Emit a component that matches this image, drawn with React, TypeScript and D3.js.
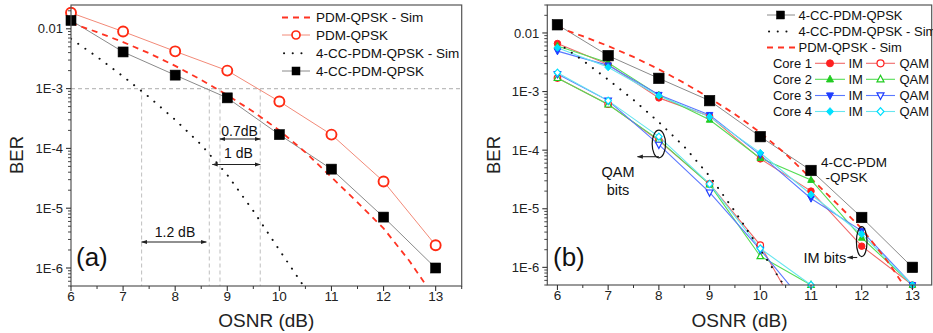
import React from 'react';
import * as d3 from 'd3';

// ---------- data ----------
const osnr = [6, 7, 8, 9, 10, 11, 12, 13];
const pdmQpskExp = [0.0185, 0.009, 0.0042, 0.002, 6.1e-4, 1.7e-4, 2.8e-5, 2.4e-6];
const cc4Exp = [0.0138, 0.0041, 0.00168, 7.0e-4, 1.7e-4, 4.5e-5, 7.1e-6, 1.0e-6];

const simX = [6, 6.5, 7, 7.5, 8, 8.5, 9, 9.5, 10, 10.5, 11, 11.5, 12, 12.5, 13];
const pdmQpskSim = [0.0125, 0.0088, 0.006, 0.0039, 0.0024, 0.0014, 7.8e-4, 4.1e-4, 2.0e-4, 8.6e-5, 3.3e-5, 1.25e-5, 4.6e-6, 1.3e-6, 3e-7];

const ccSimX = [6, 6.5, 7, 7.5, 8, 8.5, 9, 9.5, 10, 10.5, 11];
const ccSim = [0.0068, 0.0034, 0.0016, 7.2e-4, 3.0e-4, 1.15e-4, 3.6e-5, 9.0e-6, 2.0e-6, 4.5e-7, 1e-7];

const imCore1 = [0.0066, 0.0029, 7.8e-4, 3.8e-4, 7.1e-5, 2.0e-5, 2.3e-6, 5e-7];
const imCore2 = [0.006, 0.0031, 8.7e-4, 3.3e-4, 7.3e-5, 3.1e-5, 3.2e-6, 5e-7];
const imCore3 = [0.0049, 0.0028, 8.8e-4, 4.0e-4, 8.3e-5, 1.5e-5, 4.2e-6, 5e-7];
const imCore4 = [0.0056, 0.0026, 8.5e-4, 3.7e-4, 9.0e-5, 1.75e-5, 3.7e-6, 5e-7];

const qamX = [6, 7, 8, 9, 10, 11];
const qamCore1 = [0.0017, 6.1e-4, 1.45e-4, 2.65e-5, 2.4e-6, 7e-8];
const qamCore2 = [0.0017, 6.0e-4, 1.5e-4, 2.6e-5, 1.55e-6, 5e-7];
const qamCore3 = [0.002, 7.0e-4, 1.24e-4, 1.9e-5, 2.0e-6, 1.8e-7];
const qamCore4 = [0.0021, 7.0e-4, 1.7e-4, 2.65e-5, 2.1e-6, 5e-7];

const xTicks = [6, 7, 8, 9, 10, 11, 12, 13];
const yTicks = [1e-2, 1e-3, 1e-4, 1e-5, 1e-6];
const yTickLabels = ['0.01', '1E-3', '1E-4', '1E-5', '1E-6'];

const coreNames = ['Core 1', 'Core 2', 'Core 3', 'Core 4'];
const legendA = ['PDM-QPSK - Sim', 'PDM-QPSK', '4-CC-PDM-QPSK - Sim', '4-CC-PDM-QPSK'];
const legendB = ['4-CC-PDM-QPSK', '4-CC-PDM-QPSK - Sim', 'PDM-QPSK - Sim'];

// reference marks in panel (a)
const refLevel = 1e-3;
const refX = [7.355, 8.655, 8.86, 9.633];

// ---------- styling ----------
const FONT = '"Liberation Sans", Arial, Helvetica, sans-serif';
const RED = '#ff2a12';
const RED_LINE = '#f28a78';
const DASH_RED = '#ff3322';
const GRAY_LINE = '#8a8a8a';
const coreMarkColors = ['#ff2020', '#22cc22', '#1f3dff', '#00e0ff'];
const coreLineColors = ['#f06a6a', '#55dd55', '#5a78ff', '#66e6f0'];
const coreShapes = ['circle', 'up', 'down', 'diamond'];

function Mark({ x, y, shape, size, color, filled, sw = 1.2 }: any) {
  const r = size / 2;
  const fill = filled ? color : '#ffffff';
  if (shape === 'circle') return <circle cx={x} cy={y} r={r} fill={fill} stroke={color} strokeWidth={sw} />;
  if (shape === 'square') return <rect x={x - r} y={y - r} width={size} height={size} fill={fill} stroke={color} strokeWidth={sw} />;
  if (shape === 'up') return <path d={`M${x},${y - r * 1.15}L${x + r},${y + r * 0.75}L${x - r},${y + r * 0.75}Z`} fill={fill} stroke={color} strokeWidth={sw} />;
  if (shape === 'down') return <path d={`M${x},${y + r * 1.15}L${x + r},${y - r * 0.75}L${x - r},${y - r * 0.75}Z`} fill={fill} stroke={color} strokeWidth={sw} />;
  return <path d={`M${x},${y - r * 1.1}L${x + r},${y}L${x},${y + r * 1.1}L${x - r},${y}Z`} fill={fill} stroke={color} strokeWidth={sw} />;
}

function Axes({ xs, ys, L, R, T, B }: any) {
  const [x0, x1] = xs.domain();
  const [y0, y1] = ys.domain();
  const xMinor: number[] = [];
  for (let v = 5.5; v <= 14; v += 1) if (v >= x0 && v <= x1) xMinor.push(v);
  const yMinor: number[] = [];
  for (let e = -7; e <= -1; e++) for (let k = 2; k <= 9; k++) {
    const v = k * Math.pow(10, e);
    if (v >= y0 && v <= y1) yMinor.push(v);
  }
  const ax = '#333';
  return (
    <g>
      <rect x={L} y={T} width={R - L} height={B - T} fill="none" stroke="#555" strokeWidth={1.2} />
      {xTicks.map((t) => (
        <g key={'xt' + t}>
          <line x1={xs(t)} x2={xs(t)} y1={B} y2={B + 5} stroke={ax} strokeWidth={1.1} />
          <text x={xs(t)} y={B + 15} fontSize={13.5} textAnchor="middle" fill="#222" fontFamily={FONT}>{t}</text>
        </g>
      ))}
      {xMinor.map((t) => (
        <line key={'xm' + t} x1={xs(t)} x2={xs(t)} y1={B} y2={B + 3} stroke={ax} strokeWidth={1} />
      ))}
      {yTicks.map((t, i) => (
        <g key={'yt' + t}>
          <line x1={L - 5} x2={L} y1={ys(t)} y2={ys(t)} stroke={ax} strokeWidth={1.1} />
          <text x={L - 8} y={ys(t) + 4.7} fontSize={13} textAnchor="end" fill="#222" fontFamily={FONT}>{yTickLabels[i]}</text>
        </g>
      ))}
      {yMinor.map((t) => (
        <line key={'ym' + t} x1={L - 3} x2={L} y1={ys(t)} y2={ys(t)} stroke={ax} strokeWidth={0.9} />
      ))}
      <text x={(L + R) / 2} y={327} fontSize={19} textAnchor="middle" fill="#222" fontFamily={FONT}>OSNR (dB)</text>
    </g>
  );
}

export default function App() {
  // panel (a)
  const aL = 71, aR = 461.7, aT = 5, aB = 286;
  const xa = d3.scaleLinear().domain([6, 13.5]).range([aL, aR]);
  const ya = d3.scaleLog().domain([5e-7, 0.025]).range([aB, aT]);
  // panel (b)
  const bL = 547.3, bR = 931.7, bT = 5, bB = 285;
  const xb = d3.scaleLinear().domain([5.8, 13.38]).range([bL, bR]);
  const yb = d3.scaleLog().domain([5e-7, 0.03]).range([bB, bT]);

  const mkLine = (xs: any, ys: any) =>
    d3.line<[number, number]>().x((d) => xs(d[0])).y((d) => ys(d[1]));
  const la = mkLine(xa, ya);
  const lb = mkLine(xb, yb);
  const zip = (xv: number[], yv: number[]) => xv.map((x, i) => [x, yv[i]] as [number, number]);
  const visible = (v: number, ys: any) => v >= ys.domain()[0] * 0.97;

  const imSeries = [imCore1, imCore2, imCore3, imCore4];
  const qamSeries = [qamCore1, qamCore2, qamCore3, qamCore4];

  const lgAy = [17.5, 35, 53.3, 71];
  const lgBy = [15, 31.5, 47.5, 63.3, 79.3, 95.5, 111.5];

  const dotted = '0.1 8.6';

  return (
    <svg width={933} height={333} style={{ position: 'absolute', left: 0, top: 0, background: '#fff' }} fontFamily={FONT}>
      <defs>
        <clipPath id="clipA"><rect x={aL} y={aT} width={aR - aL} height={aB - aT} /></clipPath>
        <clipPath id="clipB"><rect x={bL} y={bT} width={bR - bL} height={bB - bT} /></clipPath>
        <marker id="ah" viewBox="0 0 10 10" refX="9" refY="5" markerWidth="6" markerHeight="6" orient="auto-start-reverse" markerUnits="userSpaceOnUse">
          <path d="M0,1.5L10,5L0,8.5Z" fill="#222" />
        </marker>
      </defs>
      <rect x={0} y={0} width={933} height={333} fill="#fff" />

      {/* ============ Panel (a) ============ */}
      <g clipPath="url(#clipA)">
        <line x1={aL} x2={aR} y1={ya(refLevel)} y2={ya(refLevel)} stroke="#bdbdbd" strokeWidth={1.1} strokeDasharray="4 3" />
        {refX.map((v) => (
          <line key={'rv' + v} x1={xa(v)} x2={xa(v)} y1={ya(refLevel)} y2={aB} stroke="#c4c4c4" strokeWidth={1.1} strokeDasharray="4 3" />
        ))}
        <path d={la(zip(osnr, pdmQpskExp)) || ''} fill="none" stroke={RED_LINE} strokeWidth={1} />
        <path d={la(zip(osnr, cc4Exp)) || ''} fill="none" stroke={GRAY_LINE} strokeWidth={1} />
        <path d={la(zip(ccSimX, ccSim)) || ''} fill="none" stroke="#111" strokeWidth={2} strokeDasharray={dotted} strokeLinecap="round" />
        <path d={la(zip(simX, pdmQpskSim)) || ''} fill="none" stroke={DASH_RED} strokeWidth={1.8} strokeDasharray="6 5" />
      </g>
      {osnr.map((x, i) => (
        <Mark key={'ac' + x} x={xa(x)} y={ya(pdmQpskExp[i])} shape="circle" size={10} color={RED} filled={false} sw={1.9} />
      ))}
      {osnr.map((x, i) => (
        <Mark key={'as' + x} x={xa(x)} y={ya(cc4Exp[i])} shape="square" size={10} color="#000" filled={true} sw={0.6} />
      ))}
      <Axes xs={xa} ys={ya} L={aL} R={aR} T={aT} B={aB} />
      <text transform={`translate(23,155) rotate(-90)`} fontSize={18.5} textAnchor="middle" fill="#222">BER</text>
      <text x={76} y={266} fontSize={26} fill="#111">(a)</text>

      {/* annotations (a) */}
      <text x={239.5} y={135.5} fontSize={14} textAnchor="middle" fill="#111">0.7dB</text>
      <line x1={xa(refX[2])} x2={xa(refX[3])} y1={139} y2={139} stroke="#222" strokeWidth={1.2} markerStart="url(#ah)" markerEnd="url(#ah)" />
      <text x={238.5} y={157.5} fontSize={14} textAnchor="middle" fill="#111">1 dB</text>
      <line x1={xa(refX[1]) + 3} x2={xa(refX[3])} y1={164.5} y2={164.5} stroke="#222" strokeWidth={1.2} markerStart="url(#ah)" markerEnd="url(#ah)" />
      <text x={175} y={237} fontSize={14} textAnchor="middle" fill="#111">1.2 dB</text>
      <line x1={xa(refX[0])} x2={xa(refX[1]) - 3} y1={242} y2={242} stroke="#222" strokeWidth={1.2} markerStart="url(#ah)" markerEnd="url(#ah)" />

      {/* legend (a) */}
      <g>
        <line x1={282} x2={310} y1={lgAy[0]} y2={lgAy[0]} stroke={DASH_RED} strokeWidth={1.8} strokeDasharray="6 5" />
        <line x1={282} x2={310} y1={lgAy[1]} y2={lgAy[1]} stroke={RED_LINE} strokeWidth={1} />
        <Mark x={296} y={lgAy[1]} shape="circle" size={8} color={RED} filled={false} sw={1.7} />
        <line x1={284} x2={310} y1={lgAy[2]} y2={lgAy[2]} stroke="#111" strokeWidth={2} strokeDasharray={dotted} strokeLinecap="round" />
        <line x1={282} x2={310} y1={lgAy[3]} y2={lgAy[3]} stroke={GRAY_LINE} strokeWidth={1} />
        <Mark x={296} y={lgAy[3]} shape="square" size={8} color="#000" filled={true} sw={0.5} />
        {legendA.map((t, i) => (
          <text key={'lga' + i} x={316} y={lgAy[i] + 4.8} fontSize={13.5} fill="#111">{t}</text>
        ))}
      </g>

      {/* ============ Panel (b) ============ */}
      <g clipPath="url(#clipB)">
        {qamSeries.map((s, c) => (
          <path key={'ql' + c} d={lb(zip(qamX, s)) || ''} fill="none" stroke={coreLineColors[c]} strokeWidth={1.1} />
        ))}
        {imSeries.map((s, c) => (
          <path key={'il' + c} d={lb(zip(osnr, s)) || ''} fill="none" stroke={coreLineColors[c]} strokeWidth={1.1} />
        ))}
        <path d={lb(zip(osnr, cc4Exp)) || ''} fill="none" stroke={GRAY_LINE} strokeWidth={1} />
        <path d={lb(zip(ccSimX, ccSim)) || ''} fill="none" stroke="#111" strokeWidth={2} strokeDasharray={dotted} strokeLinecap="round" />
        <path d={lb(zip(simX, pdmQpskSim)) || ''} fill="none" stroke={DASH_RED} strokeWidth={1.8} strokeDasharray="6 5" />
      </g>
      {qamSeries.map((s, c) =>
        qamX.map((x, i) =>
          visible(s[i], yb) ? (
            <Mark key={'qm' + c + '_' + i} x={xb(x)} y={yb(s[i])} shape={coreShapes[c]} size={6.5} color={coreMarkColors[c]} filled={false} sw={1.2} />
          ) : null
        )
      )}
      {imSeries.map((s, c) =>
        osnr.map((x, i) =>
          visible(s[i], yb) ? (
            <Mark key={'im' + c + '_' + i} x={xb(x)} y={yb(s[i])} shape={coreShapes[c]} size={6.5} color={coreMarkColors[c]} filled={true} sw={1} />
          ) : null
        )
      )}
      {osnr.map((x, i) => (
        <Mark key={'bs' + x} x={xb(x)} y={yb(cc4Exp[i])} shape="square" size={10.5} color="#000" filled={true} sw={0.6} />
      ))}
      <Axes xs={xb} ys={yb} L={bL} R={bR} T={bT} B={bB} />
      <text transform={`translate(500,155) rotate(-90)`} fontSize={18.5} textAnchor="middle" fill="#222">BER</text>
      <text x={553} y={266} fontSize={26} fill="#111">(b)</text>

      {/* annotations (b) */}
      <ellipse cx={xb(8)} cy={144} rx={6.7} ry={13.8} fill="none" stroke="#111" strokeWidth={1.2} />
      <line x1={xb(8)} x2={637.5} y1={156.7} y2={156.7} stroke="#222" strokeWidth={1.1} markerEnd="url(#ah)" />
      <text x={618} y={176.5} fontSize={14.5} textAnchor="middle" fill="#111">QAM</text>
      <text x={618} y={195} fontSize={14.5} textAnchor="middle" fill="#111">bits</text>
      <text x={821} y={166.5} fontSize={13.5} fill="#111">4-CC-PDM</text>
      <text x={825.5} y={181.5} fontSize={13.5} fill="#111">-QPSK</text>
      <ellipse cx={xb(12)} cy={241.7} rx={5.3} ry={15} fill="none" stroke="#111" strokeWidth={1.2} />
      <line x1={xb(12) - 4.5} x2={847.5} y1={257.5} y2={257.5} stroke="#222" strokeWidth={1.1} markerEnd="url(#ah)" />
      <text x={803.5} y={263} fontSize={14.5} fill="#111">IM bits</text>

      {/* legend (b) */}
      <g>
        <line x1={767} x2={795} y1={lgBy[0]} y2={lgBy[0]} stroke={GRAY_LINE} strokeWidth={1} />
        <Mark x={780.5} y={lgBy[0]} shape="square" size={8} color="#000" filled={true} sw={0.5} />
        <line x1={769} x2={795} y1={lgBy[1]} y2={lgBy[1]} stroke="#111" strokeWidth={2} strokeDasharray={dotted} strokeLinecap="round" />
        <line x1={767} x2={795} y1={lgBy[2]} y2={lgBy[2]} stroke={DASH_RED} strokeWidth={1.8} strokeDasharray="6 5" />
        {legendB.map((t, i) => (
          <text key={'lgb' + i} x={798.5} y={lgBy[i] + 4.7} fontSize={13} fill="#111">{t}</text>
        ))}
        {coreNames.map((n, c) => {
          const y = lgBy[3 + c];
          return (
            <g key={'core' + c}>
              <text x={812} y={y + 4.7} fontSize={13} textAnchor="end" fill="#111">{n}</text>
              <line x1={815} x2={845} y1={y} y2={y} stroke={coreLineColors[c]} strokeWidth={1.1} />
              <Mark x={830} y={y} shape={coreShapes[c]} size={7} color={coreMarkColors[c]} filled={true} sw={1} />
              <text x={848.5} y={y + 4.7} fontSize={13} fill="#111">IM</text>
              <line x1={866} x2={895} y1={y} y2={y} stroke={coreLineColors[c]} strokeWidth={1.1} />
              <Mark x={880.5} y={y} shape={coreShapes[c]} size={7} color={coreMarkColors[c]} filled={false} sw={1.2} />
              <text x={899.5} y={y + 4.7} fontSize={13} fill="#111">QAM</text>
            </g>
          );
        })}
      </g>
    </svg>
  );
}
